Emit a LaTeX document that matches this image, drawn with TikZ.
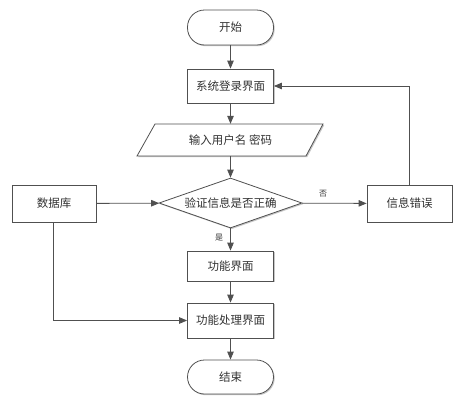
\documentclass[tikz,border=0pt]{standalone}
\usepackage{fontspec}
\newfontfamily\cjk{Noto Sans CJK SC}
\usetikzlibrary{arrows.meta,shapes.geometric,shadows}
\definecolor{ln}{HTML}{505050}
\tikzset{
  base/.style={draw=ln, line width=0.8pt, fill=white, font=\cjk\fontsize{11.5}{12}\selectfont, text=black!80, inner sep=0pt,
    general shadow={fill=black!22, shadow xshift=1.2pt, shadow yshift=-1.2pt}},
  proc/.style={base, rectangle, minimum width=86pt},
  term/.style={base, rectangle, rounded corners=17pt, minimum width=86pt, minimum height=35pt},
  dec/.style={base, diamond, minimum width=143pt, minimum height=50pt, aspect=2.86},
  conn/.style={draw=ln, line width=0.8pt, -{Triangle[length=8pt,width=6.5pt]}},
  lbl/.style={font=\cjk\fontsize{8}{9}\selectfont, text=black!80, inner sep=0pt}
}
\begin{document}
\begin{tikzpicture}[x=1pt,y=-1pt]
\useasboundingbox[fill=white] (0,0) rectangle (470,402);
\node[term] (start) at (230.5,27.5) {开始};
\node[proc, minimum height=34pt] (login) at (230.5,86) {系统登录界面};
% parallelogram
\fill[black!22] (156.2,125.2) -- (324.2,125.2) -- (307.2,157.2) -- (138.2,157.2) -- cycle;
\draw[ln, line width=0.8pt, fill=white] (155,124) -- (323,124) -- (306,156) -- (137,156) -- cycle;
\node[font=\cjk\fontsize{11.5}{12}\selectfont, text=black!80, minimum height=32pt, minimum width=100pt, inner sep=0pt] (input) at (230.5,140) {输入用户名 密码};
\node[dec] (chk) at (230.5,203) {验证信息是否正确};
\node[proc, minimum width=84pt, minimum height=37pt] (db) at (54,203.5) {数据库};
\node[proc, minimum width=85pt, minimum height=37pt] (err) at (409.5,203.5) {信息错误};
\node[proc, minimum height=30pt] (func) at (230.5,266) {功能界面};
\node[proc, minimum height=35pt] (fproc) at (230.5,320.5) {功能处理界面};
\node[term, minimum height=34pt] (end) at (230.5,377) {结束};
\coordinate (errup) at (409.5,86);
\coordinate (dbdown) at (53,320.5);
\draw[conn] (start) -- (login);
\draw[conn] (login) -- (input);
\draw[conn] (input) -- (chk);
\draw[conn] (chk) -- node[lbl, pos=0.4, left=7pt] (yes) {是} (func);
\draw[conn] (func) -- (fproc);
\draw[conn] (fproc) -- (end);
\draw[conn] (db) -- (chk);
\draw[conn] (chk) -- node[lbl, pos=0.33, above=6pt] (no) {否} (err);
\draw[conn] (err.north) -- (errup) -- (login.east);
\draw[conn] (db.south -| dbdown) -- (dbdown) -- (fproc.west);
\end{tikzpicture}
\end{document}
